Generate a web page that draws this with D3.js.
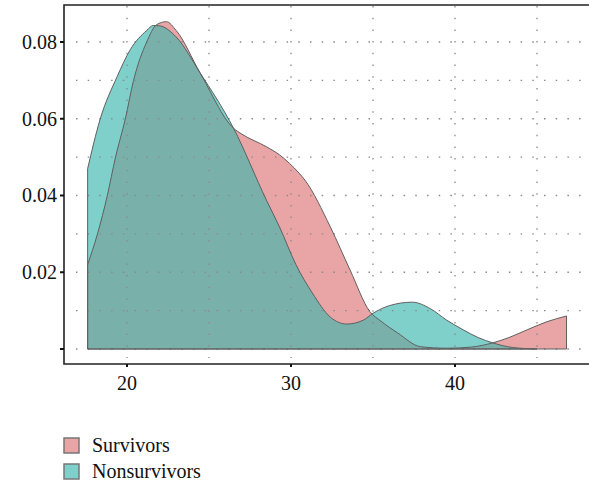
<!DOCTYPE html>
<html>
<head>
<meta charset="utf-8">
<script src="https://cdn.jsdelivr.net/npm/d3@7"></script>
<style>
  body { margin: 0; background: #fff; }
  svg { display: block; font-family: "Liberation Serif", "DejaVu Serif", serif; }
</style>
</head>
<body>
<svg id="chart" width="589" height="483"></svg>
<script>
// density estimates
var survX = [17.6, 18.2, 18.8, 19.3, 19.9, 20.4, 21.2, 21.8, 22.4, 23.0, 24.45, 26.5, 27.0, 28.5, 29.3, 29.9, 30.5, 30.85, 32.4, 33.6, 34.8, 35.5, 36.5, 37.9, 39.5, 41.0, 42.3, 43.3, 44.4, 45.6, 46.8];
var survY = [0.022, 0.030, 0.040, 0.050, 0.060, 0.070, 0.080, 0.0845, 0.0853, 0.083, 0.072, 0.0575, 0.056, 0.0527, 0.0506, 0.0484, 0.0458, 0.044, 0.0318, 0.0206, 0.0098, 0.0072, 0.0042, 0.0006, 0.0002, 0.0005, 0.0016, 0.003, 0.005, 0.0071, 0.0086];

var nonX = [17.6, 18.35, 19.4, 20.2, 21.2, 21.6, 22.0, 23.0, 24.45, 26.5, 28.5, 29.3, 30.3, 31.3, 32.4, 33.4, 34.4, 35.0, 36.0, 37.4, 38.5, 39.5, 40.5, 41.4, 42.3, 43.5, 45.0];
var nonY = [0.047, 0.0597, 0.071, 0.078, 0.083, 0.0843, 0.0842, 0.0813, 0.072, 0.0575, 0.0388, 0.0318, 0.022, 0.0146, 0.0083, 0.0065, 0.0075, 0.0093, 0.0113, 0.0122, 0.0105, 0.0075, 0.005, 0.003, 0.0016, 0.0004, 0.0];

var xTicks = [20, 30, 40];
var xGrid = [20, 25, 30, 35, 40, 45];
var yTicks = [0, 0.02, 0.04, 0.06, 0.08];
var yTickLabels = ["", "0.02", "0.04", "0.06", "0.08"];
var yGrid = [0, 0.01, 0.02, 0.03, 0.04, 0.05, 0.06, 0.07, 0.08];
var legendNames = ["Survivors", "Nonsurvivors"];

var svg = d3.select("#chart"),
    frame = {left: 64, right: 589, top: 5, bottom: 364};

var x = d3.scaleLinear().domain([20, 40]).range([127, 455]),
    y = d3.scaleLinear().domain([0, 0.08]).range([349, 42]);

var survData = survX.map(function (v, i) { return {x: v, y: survY[i]}; }),
    nonData = nonX.map(function (v, i) { return {x: v, y: nonY[i]}; });

var area = d3.area()
    .x(function (d) { return x(d.x); })
    .y0(y(0))
    .y1(function (d) { return y(d.y); })
    .curve(d3.curveMonotoneX);

var pink = "#e9a5a5", teal = "#7fcfcb", both = "#7ab0aa";

svg.append("defs").append("clipPath")
    .attr("id", "survClip")
    .append("path")
    .attr("d", area(survData));

// filled areas
svg.append("path").attr("d", area(survData)).attr("fill", pink);
svg.append("path").attr("d", area(nonData)).attr("fill", teal);
svg.append("path").attr("d", area(nonData)).attr("fill", both)
    .attr("clip-path", "url(#survClip)");

// dotted grid
svg.append("g").selectAll("line")
    .data(yGrid)
    .enter().append("line")
    .attr("x1", frame.left + 12).attr("x2", frame.right)
    .attr("y1", function (d) { return y(d); })
    .attr("y2", function (d) { return y(d); })
    .attr("stroke", "#8a8a8a")
    .attr("stroke-width", 1.3)
    .attr("stroke-dasharray", "1.5,10.2");

svg.append("g").selectAll("line")
    .data(xGrid)
    .enter().append("line")
    .attr("x1", function (d) { return x(d); })
    .attr("x2", function (d) { return x(d); })
    .attr("y1", frame.top + 1).attr("y2", 358)
    .attr("stroke", "#8a8a8a")
    .attr("stroke-width", 1.3)
    .attr("stroke-dasharray", "1.5,10.2");

// outlines
svg.append("path").attr("d", area(survData))
    .attr("fill", "none").attr("stroke", "#5f5f5f").attr("stroke-width", 1);
svg.append("path").attr("d", area(nonData))
    .attr("fill", "none").attr("stroke", "#5f5f5f").attr("stroke-width", 1);

// frame
svg.append("path")
    .attr("d", "M" + frame.right + "," + frame.top + "H" + frame.left + "V" + frame.bottom + "H" + frame.right)
    .attr("fill", "none")
    .attr("stroke", "#222")
    .attr("stroke-width", 1.6);

// y ticks
svg.append("g").selectAll("line")
    .data(yTicks)
    .enter().append("line")
    .attr("x1", frame.left - 4).attr("x2", frame.left)
    .attr("y1", function (d) { return y(d); })
    .attr("y2", function (d) { return y(d); })
    .attr("stroke", "#111").attr("stroke-width", 2);

svg.append("g").selectAll("text")
    .data(yTicks)
    .enter().append("text")
    .attr("x", 57)
    .attr("y", function (d) { return y(d); })
    .attr("dy", "0.34em")
    .attr("text-anchor", "end")
    .attr("font-size", 20)
    .attr("fill", "#111")
    .text(function (d, i) { return yTickLabels[i]; });

// x ticks
svg.append("g").selectAll("line")
    .data(xTicks)
    .enter().append("line")
    .attr("x1", function (d) { return x(d); })
    .attr("x2", function (d) { return x(d); })
    .attr("y1", frame.bottom).attr("y2", frame.bottom + 3)
    .attr("stroke", "#111").attr("stroke-width", 2);

svg.append("g").selectAll("text")
    .data(xTicks)
    .enter().append("text")
    .attr("x", function (d) { return x(d); })
    .attr("y", 390)
    .attr("text-anchor", "middle")
    .attr("font-size", 20)
    .attr("fill", "#111")
    .text(function (d) { return d; });

// legend
var legend = svg.append("g").selectAll("g")
    .data(legendNames)
    .enter().append("g")
    .attr("transform", function (d, i) { return "translate(64," + (438 + i * 26) + ")"; });

legend.append("rect")
    .attr("width", 15).attr("height", 15)
    .attr("fill", function (d, i) { return i === 0 ? pink : teal; })
    .attr("stroke", "#777").attr("stroke-width", 1.5);

legend.append("text")
    .attr("x", 28).attr("y", 14)
    .attr("font-size", 20)
    .attr("fill", "#111")
    .text(function (d) { return d; });
</script>
</body>
</html>
